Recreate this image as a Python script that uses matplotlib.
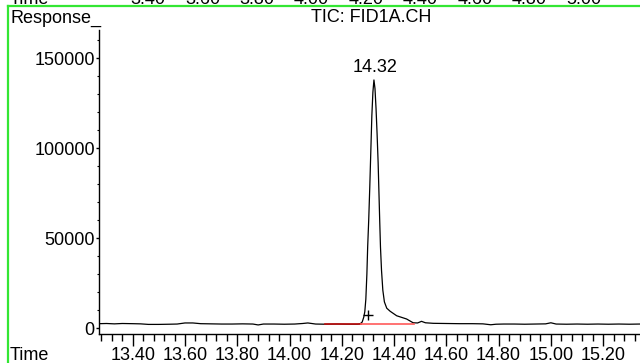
import matplotlib
matplotlib.use("Agg")
import matplotlib.pyplot as plt
from matplotlib.ticker import MultipleLocator, FormatStrFormatter

plt.rcParams['font.family'] = ['Liberation Sans', 'DejaVu Sans']

# Chromatogram trace (time in min, response)
time = [13.271, 13.30, 13.33, 13.36, 13.40, 13.43, 13.46, 13.50, 13.54, 13.57,
        13.60, 13.63, 13.66, 13.70, 13.74, 13.78, 13.82, 13.86, 13.88, 13.90,
        13.94, 13.98, 14.02, 14.05, 14.07, 14.10, 14.14, 14.18, 14.22, 14.26,
        14.270, 14.278, 14.284, 14.288, 14.292, 14.296, 14.299, 14.303, 14.307,
        14.311, 14.315, 14.319, 14.323, 14.327, 14.331, 14.335, 14.339, 14.342,
        14.345, 14.348, 14.352, 14.357, 14.363, 14.372, 14.385, 14.41, 14.448,
        14.473, 14.49, 14.505, 14.52, 14.55, 14.60, 14.65, 14.70, 14.74, 14.77,
        14.79, 14.82, 14.86, 14.90, 14.94, 14.98, 15.00, 15.02, 15.06, 15.10,
        15.14, 15.18, 15.22, 15.26, 15.30, 15.341]
response = [2400, 2500, 2300, 2500, 2400, 2300, 2000, 2000, 2100, 2200,
            2800, 2800, 2400, 2300, 2200, 2200, 2300, 2200, 1700, 2200,
            2200, 2100, 2200, 2500, 2800, 2200, 2100, 2200, 2100, 2100,
            2300, 3300, 6000, 9000, 16000, 30000, 45000, 60000, 78000,
            98000, 118000, 131000, 137800, 133000, 122000, 108000, 92000, 76000,
            60000, 45000, 32000, 21000, 14500, 11000, 9300, 6800, 5000,
            2900, 2800, 3700, 2900, 2600, 2500, 2400, 2400, 2300, 1800,
            2100, 2200, 2200, 2100, 2200, 2300, 2900, 2200, 2100, 2200,
            2100, 2200, 2100, 2200, 2100, 2200]

apex_time = 14.323
apex_resp = 137800
apex_label = "14.32"
marker_time = 14.30
marker_resp = 7500
base_start = 14.136
base_split = 14.275
base_end = 14.475
base_level = 2200

top_labels = ["3.40", "3.60", "3.80", "4.00", "4.20", "4.40", "4.60", "4.80", "5.00"]

W, H = 640, 363
fig = plt.figure(figsize=(W / 100, H / 100), dpi=100)
ax = fig.add_axes([99 / W, 1 - 334 / H, (W - 99) / W + 0.02, (334 - 30) / H])

ax.plot(time, response, color='black', lw=0.9)
ax.plot([base_start, base_split], [base_level, base_level], color='#c01010', lw=1.2)
ax.plot([base_split, base_end], [base_level, base_level], color='#ff5a5a', lw=1.2)
ax.plot([marker_time], [marker_resp], marker='+', color='black', ms=7, mew=1.0)
ax.annotate(apex_label, (apex_time, apex_resp), xytext=(1, 3), textcoords='offset points',
            ha='center', va='bottom', fontsize=13)

ax.set_xlim(13.271, 15.341 + 0.02 * 2.07 / 0.845)
ax.set_ylim(-3333, 165556)
for s in ['top', 'right']:
    ax.spines[s].set_visible(False)
for s in ['left', 'bottom']:
    ax.spines[s].set_linewidth(1.0)

ax.xaxis.set_major_locator(MultipleLocator(0.2))
ax.xaxis.set_minor_locator(MultipleLocator(0.04))
ax.xaxis.set_major_formatter(FormatStrFormatter('%.2f'))
ax.yaxis.set_major_locator(MultipleLocator(50000))
ax.yaxis.set_minor_locator(MultipleLocator(10000))
ax.tick_params(axis='x', which='major', direction='out', length=8.5, width=1, pad=1, labelsize=13)
ax.tick_params(axis='x', which='minor', direction='out', length=5, width=1)
ax.tick_params(axis='y', which='major', direction='out', length=2.5, width=1, pad=0.5, labelsize=13)
ax.tick_params(axis='y', which='minor', direction='out', length=1.5, width=0.8)

fig.text(10 / W, 1 - 18 / H, "Response_", ha='left', va='center', fontsize=13)
fig.text(371 / W, 1 - 18 / H, "TIC: FID1A.CH", ha='center', va='center', fontsize=13)
fig.text(10 / W, 1 - 355 / H, "Time", ha='left', va='center', fontsize=13)

# partial labels of the chart above (cut by the top edge)
fig.text(10 / W, 1 - 3.5 / H, "Time", ha='left', va='baseline', fontsize=13)
for i, lab in enumerate(top_labels):
    fig.text((148 + 54.5 * i) / W, 1 - 3.5 / H, lab, ha='center', va='baseline', fontsize=13)

green = '#33e633'
fig.add_artist(plt.Line2D([8 / W, 1], [1 - 6 / H, 1 - 6 / H], color=green, lw=1.6,
                          transform=fig.transFigure))
fig.add_artist(plt.Line2D([8 / W, 8 / W], [0, 1 - 6 / H], color=green, lw=1.6,
                          transform=fig.transFigure))

fig.savefig("out.png", dpi=100)
